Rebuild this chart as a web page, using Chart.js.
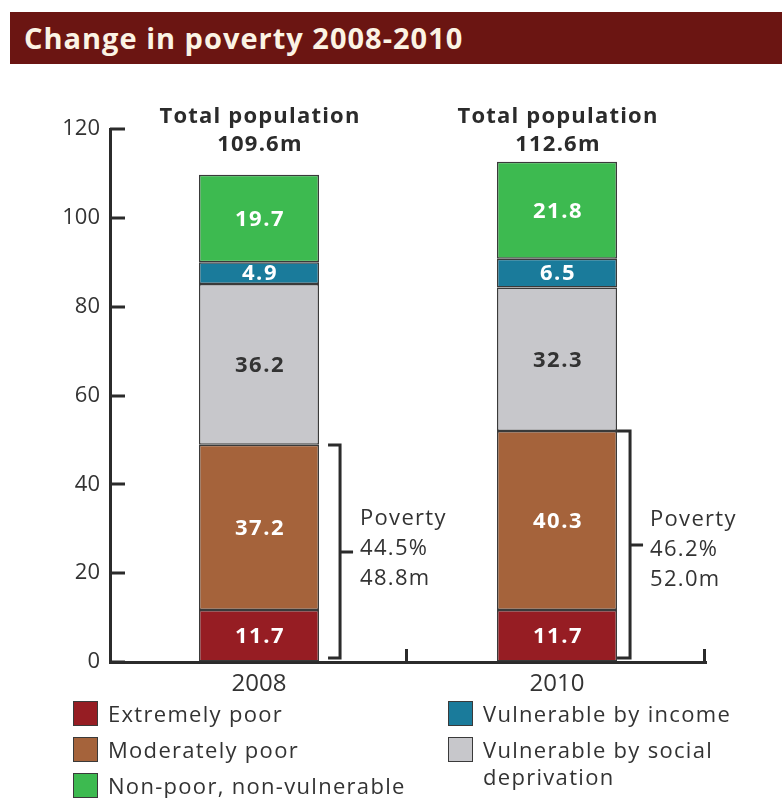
<!DOCTYPE html>
<html>
<head>
<meta charset="utf-8">
<title>Change in poverty 2008-2010</title>
<script src="https://cdn.jsdelivr.net/npm/chart.js@4.4.1/dist/chart.umd.min.js"></script>
<style>
  html, body { margin: 0; padding: 0; background: #fff; }
  body {
    width: 782px; height: 798px; position: relative; overflow: hidden;
    font-family: "Open Sans", "Noto Sans", sans-serif; color: #333;
  }
  #title {
    position: absolute; left: 10px; top: 12px; width: 772px; height: 52px;
    background: #6b1512; color: #fbf3e4; box-sizing: border-box;
    padding-left: 14px; font-weight: 700; font-size: 29px; line-height: 52px;
    letter-spacing: 1px;
  }
  #poverty { position: absolute; left: 0; top: 0; }
  .lg-item {
    position: absolute; font-size: 22px; line-height: 27px; color: #333;
    letter-spacing: 1.3px; white-space: nowrap;
  }
  .lg-item .sw {
    position: absolute; left: -35px; top: 1px; width: 23px; height: 23px;
    border: 1.5px solid #3a3a3a;
  }
</style>
</head>
<body>
<div id="title">Change in poverty 2008-2010</div>
<canvas id="poverty" width="782" height="798"></canvas>
<div id="legend"></div>

<script>
const years = ['2008', '2010'];

// millions of people, stacked from the bottom up
const extremelyPoor = [11.7, 11.7];
const moderatelyPoor = [37.2, 40.3];
const vulnerableSocial = [36.2, 32.3];
const vulnerableIncome = [4.9, 6.5];
const nonPoor = [19.7, 21.8];

const totalPopulation = [109.6, 112.6];
const povertyShare = [44.5, 46.2];
const povertyMillions = [48.8, 52.0];

const yTicks = [0, 20, 40, 60, 80, 100, 120];

const INK = '#2b2b2b';
const TEXT = '#333';
const FONT = '"Open Sans", "Noto Sans", sans-serif';

// y ticks point into the plot, x ticks mark the category boundaries
const axisTicks = {
  id: 'axisTicks',
  afterDraw(chart) {
    const { ctx, chartArea, scales } = chart;
    ctx.save();
    ctx.strokeStyle = INK;
    ctx.lineWidth = 3;
    ctx.beginPath();
    yTicks.forEach((v) => {
      const y = Math.round(scales.y.getPixelForValue(v));
      ctx.moveTo(chartArea.left, y);
      ctx.lineTo(chartArea.left + 15, y);
    });
    const step = (chartArea.right - chartArea.left) / years.length;
    for (let i = 1; i <= years.length; i++) {
      const x = Math.round(chartArea.left + step * i) - 1.5;
      ctx.moveTo(x, chartArea.bottom);
      ctx.lineTo(x, chartArea.bottom - 13);
    }
    ctx.stroke();
    ctx.restore();
  },
};

// value printed in the middle of each segment
const segmentLabels = {
  id: 'segmentLabels',
  afterDatasetsDraw(chart) {
    const { ctx } = chart;
    ctx.save();
    ctx.font = `bold 22px ${FONT}`;
    ctx.letterSpacing = '1.5px';
    ctx.textAlign = 'center';
    ctx.textBaseline = 'middle';
    chart.data.datasets.forEach((ds, di) => {
      chart.getDatasetMeta(di).data.forEach((bar, i) => {
        ctx.fillStyle = ds.labelColor || '#fff';
        ctx.fillText(ds.data[i].toFixed(1), bar.x + 1, (bar.y + bar.base) / 2 + 1);
      });
    });
    ctx.restore();
  },
};

// total headline above each bar and the poverty bracket beside it
const annotations = {
  id: 'annotations',
  afterDraw(chart, args, opts) {
    const { ctx, chartArea, scales } = chart;
    const meta = chart.getDatasetMeta(0);
    ctx.save();
    meta.data.forEach((bar, i) => {
      ctx.fillStyle = INK;
      ctx.textAlign = 'center';
      ctx.textBaseline = 'middle';
      ctx.letterSpacing = '1.2px';
      ctx.font = `bold 22px ${FONT}`;
      ctx.fillText('Total population', bar.x + 1, chartArea.top - 12);
      ctx.fillText(totalPopulation[i].toFixed(1) + 'm', bar.x + 1, chartArea.top + 16);

      const xLine = bar.x + bar.width / 2 + opts.gap[i];
      const top = Math.round(scales.y.getPixelForValue(povertyMillions[i]));
      const bottom = Math.round(scales.y.getPixelForValue(0)) - 4;
      const mid = Math.round((top + bottom) / 2);
      ctx.strokeStyle = INK;
      ctx.lineWidth = 3;
      ctx.beginPath();
      ctx.moveTo(xLine - opts.arm[i], top);
      ctx.lineTo(xLine, top);
      ctx.lineTo(xLine, bottom);
      ctx.lineTo(xLine - opts.arm[i], bottom);
      ctx.moveTo(xLine, mid);
      ctx.lineTo(xLine + 13, mid);
      ctx.stroke();

      ctx.fillStyle = TEXT;
      ctx.textAlign = 'left';
      ctx.letterSpacing = '1.3px';
      ctx.font = `22px ${FONT}`;
      const tx = xLine + 20;
      const ty = mid + opts.textShift[i];
      ctx.fillText('Poverty', tx, ty - 30);
      ctx.fillText(povertyShare[i].toFixed(1) + '%', tx, ty);
      ctx.fillText(povertyMillions[i].toFixed(1) + 'm', tx, ty + 30);
    });
    ctx.restore();
  },
};

const common = {
  borderColor: '#3a3a3a',
  borderWidth: 1.5,
  borderSkipped: false,
  categoryPercentage: 1,
  barPercentage: 0.403,
};

const chart = new Chart(document.getElementById('poverty'), {
  type: 'bar',
  data: {
    labels: years,
    datasets: [
      { ...common, label: 'Extremely poor', data: extremelyPoor, backgroundColor: '#961d23' },
      { ...common, label: 'Moderately poor', data: moderatelyPoor, backgroundColor: '#a5633b' },
      { ...common, label: 'Vulnerable by social deprivation', data: vulnerableSocial, backgroundColor: '#c7c7cb', labelColor: TEXT },
      { ...common, label: 'Vulnerable by income', data: vulnerableIncome, backgroundColor: '#1a7b9b' },
      { ...common, label: 'Non-poor, non-vulnerable', data: nonPoor, backgroundColor: '#3dba50' },
    ],
  },
  options: {
    responsive: false,
    animation: false,
    layout: { padding: { top: 129, right: 76, left: 0, bottom: 0 } },
    plugins: {
      legend: { display: false },
      tooltip: { enabled: false },
      annotations: { gap: [21, 13], arm: [12, 13], textShift: [-3, 5] },
    },
    scales: {
      x: {
        stacked: true,
        afterFit: (scale) => { scale.height = 136; },
        grid: { display: true, drawOnChartArea: false, drawTicks: false },
        border: { display: true, color: INK, width: 3 },
        ticks: { padding: 8, color: TEXT, font: { family: FONT, size: 24 } },
      },
      y: {
        stacked: true,
        min: 0,
        max: 120,
        afterFit: (scale) => { scale.width = 110; },
        afterBuildTicks: (scale) => { scale.ticks = yTicks.map((value) => ({ value })); },
        grid: { display: true, drawOnChartArea: false, drawTicks: false },
        border: { display: true, color: INK, width: 3 },
        ticks: { padding: 10, color: TEXT, font: { family: FONT, size: 22 } },
      },
    },
  },
  plugins: [axisTicks, segmentLabels, annotations],
});

// two-column legend under the axis
const legendSlots = {
  'Extremely poor': [108, 701],
  'Moderately poor': [108, 737],
  'Non-poor, non-vulnerable': [108, 773],
  'Vulnerable by income': [483, 701],
  'Vulnerable by social deprivation': [483, 737],
};
const legendBreaks = { 'Vulnerable by social deprivation': 'Vulnerable by social<br>deprivation' };
const legendEl = document.getElementById('legend');
chart.data.datasets.forEach((ds) => {
  const [left, top] = legendSlots[ds.label];
  const item = document.createElement('div');
  item.className = 'lg-item';
  item.style.left = left + 'px';
  item.style.top = (top - 1) + 'px';
  item.innerHTML = `<span class="sw" style="background:${ds.backgroundColor}"></span>${legendBreaks[ds.label] || ds.label}`;
  legendEl.appendChild(item);
});
</script>
</body>
</html>
